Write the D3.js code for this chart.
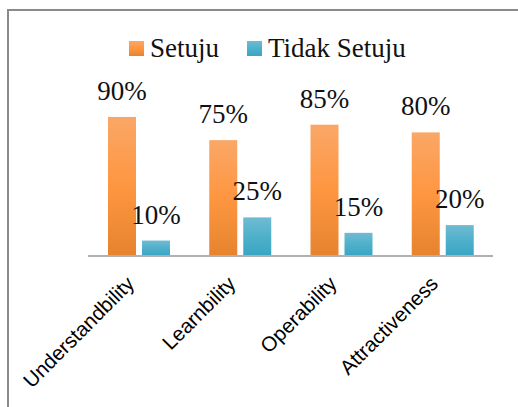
<!DOCTYPE html>
<html>
<head>
<meta charset="utf-8">
<script src="https://cdn.jsdelivr.net/npm/d3@7"></script>
<style>
  body { margin: 0; background: #fff; }
  svg { display: block; }
</style>
</head>
<body>
<svg id="chart" width="518" height="407"></svg>
<script>
// data
var categories = ['Understandbility', 'Learnbility', 'Operability', 'Attractiveness'];
var seriesNames = ['Setuju', 'Tidak Setuju'];
var setuju = [0.90, 0.75, 0.85, 0.80];
var tidakSetuju = [0.10, 0.25, 0.15, 0.20];
var seriesValues = [setuju, tidakSetuju];

var svg = d3.select('#chart');
var serif = '"Liberation Serif", "DejaVu Serif", serif';

// gradients for the bars
var defs = svg.append('defs');
var grads = [['#faa767', '#fe9640', '#e6832f'], ['#70bbd2', '#4fb0cb', '#38a5c3']];
grads.forEach(function (g, i) {
  var lg = defs.append('linearGradient')
    .attr('id', 'grad' + i)
    .attr('x1', 0).attr('y1', 0).attr('x2', 0).attr('y2', 1);
  lg.append('stop').attr('offset', '0%').attr('stop-color', g[0]);
  lg.append('stop').attr('offset', '50%').attr('stop-color', g[1]);
  lg.append('stop').attr('offset', '100%').attr('stop-color', g[2]);
});

// chart frame (right and bottom edges fall outside the picture)
svg.append('rect')
  .attr('x', 8).attr('y', 10)
  .attr('width', 600).attr('height', 500)
  .attr('fill', 'none')
  .attr('stroke', '#8a8a8a')
  .attr('stroke-width', 2);

var x0 = d3.scaleBand().domain(categories).range([88, 493]);
var x1 = d3.scaleBand().domain(seriesNames).range([20, 82]).paddingInner(0.1765);
var y = d3.scaleLinear().domain([0, 1]).range([256, 101.5]);

// bars
seriesNames.forEach(function (name, si) {
  var g = svg.append('g');
  g.selectAll('rect')
    .data(seriesValues[si])
    .enter().append('rect')
    .attr('x', function (d, i) { return x0(categories[i]) + x1(name); })
    .attr('y', function (d) { return y(d); })
    .attr('width', x1.bandwidth())
    .attr('height', function (d) { return y(0) - y(d); })
    .attr('fill', 'url(#grad' + si + ')');

  g.selectAll('text')
    .data(seriesValues[si])
    .enter().append('text')
    .attr('x', function (d, i) { return x0(categories[i]) + x1(name) + x1.bandwidth() / 2; })
    .attr('y', function (d) { return y(d) - 17; })
    .attr('text-anchor', 'middle')
    .attr('font-family', serif)
    .attr('font-size', 27)
    .attr('fill', '#111')
    .text(function (d) { return Math.round(d * 100) + '%'; });
});

// axis line
svg.append('line')
  .attr('x1', 88).attr('x2', 493)
  .attr('y1', 256).attr('y2', 256)
  .attr('stroke', '#b0b0b0')
  .attr('stroke-width', 2);

// category labels, rotated
svg.append('g').selectAll('text')
  .data(categories)
  .enter().append('text')
  .attr('transform', function (d) {
    return 'translate(' + (x0(d) + x0.bandwidth() / 2 - 3) + ',285) rotate(-45)';
  })
  .attr('text-anchor', 'end')
  .attr('font-family', '"Liberation Sans", Arial, sans-serif')
  .attr('font-size', 20.5)
  .attr('fill', '#000')
  .text(function (d) { return d; });

// legend
var legendX = [129, 247];
var legend = svg.append('g');
seriesNames.forEach(function (name, i) {
  legend.append('rect')
    .attr('x', legendX[i]).attr('y', 41)
    .attr('width', 15).attr('height', 15)
    .attr('fill', 'url(#grad' + i + ')');
  legend.append('text')
    .attr('x', legendX[i] + 21).attr('y', 57)
    .attr('font-family', serif)
    .attr('font-size', 27)
    .attr('fill', '#111')
    .text(name);
});
</script>
</body>
</html>
